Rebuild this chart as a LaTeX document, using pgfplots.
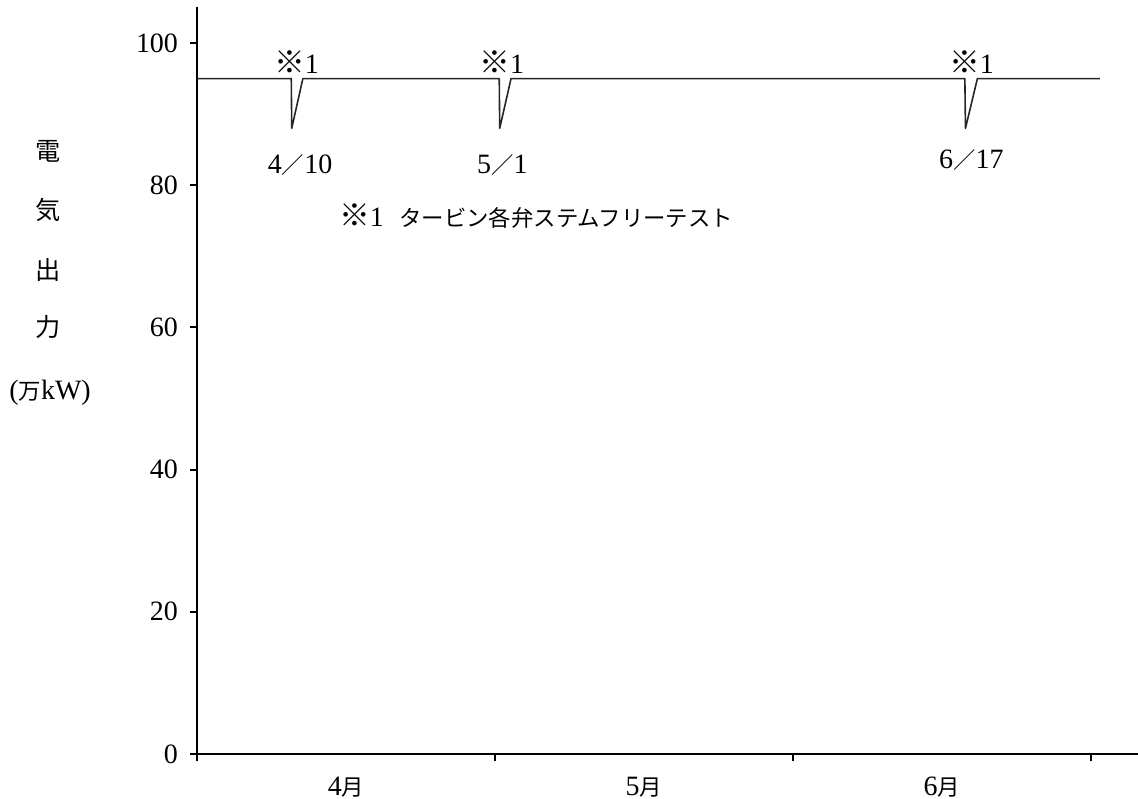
\documentclass[border=0pt]{standalone}
\usepackage{fontspec}
\setmainfont{Liberation Serif}
\newfontfamily\jp[Scale=0.8]{Noto Sans CJK JP}
\newfontfamily\jpl[Scale=0.9]{Noto Sans CJK JP}
\newfontfamily\kome[Scale=1.1]{Noto Sans CJK JP}
\newcommand{\ko}{{\kome ※}}
\usepackage{pgfplots}
\pgfplotsset{compat=1.18}

\begin{document}
\fontsize{10.5}{12}\selectfont
\begin{tikzpicture}
\begin{axis}[
  x=3.928cm, y=0.09372cm,
  xmin=0, xmax=3.158, ymin=0, ymax=105,
  axis lines=left,
  axis line style={-, line width=0.8pt, black},
  clip=false,
  xtick={0,1,2,3}, xticklabels={},
  extra x ticks={0.5,1.5,2.5},
  extra x tick labels={4{\jp 月},5{\jp 月},6{\jp 月}},
  extra x tick style={major tick length=0pt, xticklabel style={yshift=-0.17cm}},
  ytick={0,20,...,100},
  tick align=outside,
  major tick length=0.09cm,
  tick style={line width=0.8pt, black},
  tick label style={font=\fontsize{10.5}{12}\selectfont},
  yticklabel style={xshift=-0.03cm},
  /pgf/number format/assume math mode=true,
]
\addplot[black!85, line width=0.6pt, line join=round] coordinates {
  (0,95) (0.3165,95) (0.318,88) (0.3554,95)
  (1.0144,95) (1.016,88) (1.054,95)
  (2.577,95) (2.579,88) (2.619,95) (3.03,95)};

% annotations
\node at (axis cs:0.334,97.3) {\ko 1};
\node at (axis cs:1.023,97.3) {\ko 1};
\node at (axis cs:2.599,97.3) {\ko 1};
\node at (axis cs:0.346,82.8) {4{\jp ／}10};
\node at (axis cs:1.025,82.8) {5{\jp ／}1};
\node at (axis cs:2.599,83.6) {6{\jp ／}17};
\node[anchor=west, inner sep=0pt] at (axis cs:0.475,75.7) {\ko 1\hspace{0.55em}{\jp タービン各弁ステムフリーテスト}};

% y label
\node at (axis cs:-0.5,84.7) {\jpl 電};
\node at (axis cs:-0.5,76.5) {\jpl 気};
\node at (axis cs:-0.5,68.1) {\jpl 出};
\node at (axis cs:-0.5,60.1) {\jpl 力};
\node at (axis cs:-0.493,50.8) {({\jp 万}kW)};

\coordinate (bbSW) at (axis cs:-0.661,-6.33);
\coordinate (bbNE) at (axis cs:3.158,106.05);
\end{axis}
\pgfresetboundingbox
\path[use as bounding box] (bbSW) rectangle (bbNE);
\end{tikzpicture}
\end{document}
